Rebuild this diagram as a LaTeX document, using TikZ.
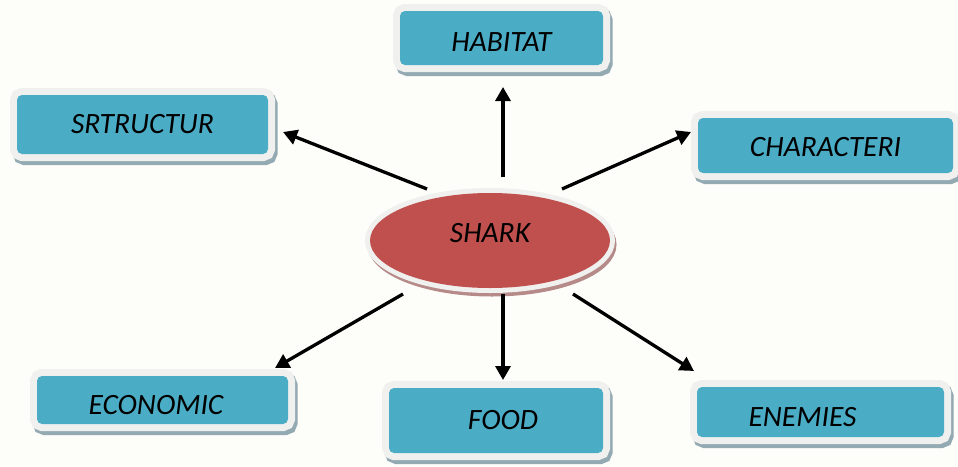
\documentclass[tikz,border=0pt]{standalone}
\usepackage{fontspec}
\setmainfont{Carlito}
\usetikzlibrary{arrows.meta,shapes.geometric}
\definecolor{bg}{HTML}{FDFDF9}
\definecolor{boxblue}{HTML}{4BACC6}
\definecolor{rim}{HTML}{F0F0EE}
\definecolor{bshadow}{HTML}{93AAB3}
\definecolor{sharkred}{HTML}{C0504D}
\definecolor{eshadow}{HTML}{B58A88}
\newcommand\lowertext[2]{\raisebox{-#1}[\height][\depth]{#2}}
\tikzset{
  boxnode/.style={rectangle, rounded corners=5pt, fill=boxblue, inner sep=0pt,
    font=\fontsize{29.5}{34}\selectfont\itshape, text=black,
    preaction={draw=bshadow, fill=bshadow, line width=14pt, transform canvas={shift={(2.5pt,-4pt)}}},
    preaction={draw=rim, fill=rim, line width=14pt}},
  sharknode/.style={ellipse, fill=sharkred, inner sep=0pt,
    minimum width=240pt, minimum height=95pt,
    font=\fontsize{29.5}{34}\selectfont\itshape, text=black,
    preaction={draw=eshadow, fill=eshadow, line width=9pt, transform canvas={shift={(2pt,-4pt)}}},
    preaction={draw=rim, fill=rim, line width=10pt}},
  arr/.style={line width=3.3pt, -{Triangle[length=14pt,width=15pt]}}
}
\begin{document}
\begin{tikzpicture}[x=1pt,y=-1pt]
\fill[bg] (0,0) rectangle (958,466);
\useasboundingbox (0,0) rectangle (958,466);

\node[boxnode, minimum width=203pt, minimum height=54pt] (habitat) at (501.5,38) {\lowertext{4pt}{HABITAT}};
\node[boxnode, minimum width=251pt, minimum height=59pt] (struct) at (142.5,124.5) {SRTRUCTUR};
\node[boxnode, minimum width=255pt, minimum height=55pt] (charac) at (825.5,145.5) {\lowertext{1.5pt}{CHARACTERI}};
\node[boxnode, minimum width=251pt, minimum height=48pt] (econ) at (162.5,400) {\lowertext{5pt}{ECONOMIC}\hspace*{13pt}};
\node[boxnode, minimum width=214pt, minimum height=65pt] (food) at (496,420.5) {\hspace*{14pt}FOOD};
\node[boxnode, minimum width=247pt, minimum height=50pt] (enem) at (820.5,412) {\lowertext{5pt}{ENEMIES}\hspace*{36pt}};

\node[sharknode] (shark) at (490,240.5) {\raisebox{7pt}[\height][\depth]{SHARK}};

\coordinate (s1) at (503,177);
\coordinate (e1) at (503,87);
\coordinate (s2) at (427,189);
\coordinate (e2) at (283,132);
\coordinate (s3) at (562,189);
\coordinate (e3) at (691,132);
\coordinate (s4) at (403,294);
\coordinate (e4) at (275,368);
\coordinate (s5) at (503,294);
\coordinate (e5) at (503,380);
\coordinate (s6) at (573,294);
\coordinate (e6) at (694,371);

\draw[arr] (s1) -- (e1);
\draw[arr] (s2) -- (e2);
\draw[arr] (s3) -- (e3);
\draw[arr] (s4) -- (e4);
\draw[arr] (s5) -- (e5);
\draw[arr] (s6) -- (e6);
\end{tikzpicture}
\end{document}
